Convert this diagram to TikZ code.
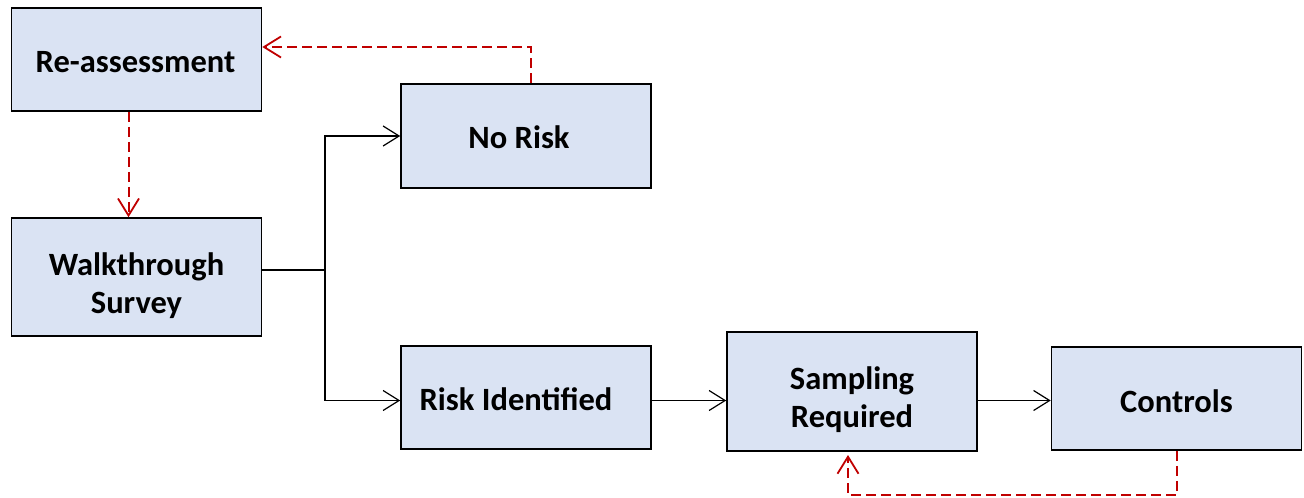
\documentclass[tikz,border=0pt]{standalone}
\usepackage{fontspec}
\setmainfont{Carlito}
\usetikzlibrary{arrows.meta,calc}
\definecolor{boxfill}{HTML}{DAE3F3}
\definecolor{dashred}{HTML}{C00000}
\begin{document}
\begin{tikzpicture}[x=1pt,y=-1pt,
  box/.style={draw=black, line width=1.6pt, fill=boxfill, inner sep=0pt,
    minimum width=250pt},
  txt/.style={inner sep=0pt, align=center,
    font=\fontsize{32.5}{38}\selectfont\bfseries},
  flow/.style={draw=black, line width=1.2pt, -{Straight Barb[length=16pt,width=20pt,line width=1.2pt]}},
  redflow/.style={draw=dashred, line width=2pt, dash pattern=on 10pt off 5pt,
    -{Straight Barb[length=17pt,width=21pt,line width=1.8pt]}}
]
\useasboundingbox (0,0) rectangle (1304,498);
\node[box, minimum height=103pt] (reass) at (136.5,59.5) {};
\node[box, minimum height=104pt] (norisk) at (526,136) {};
\node[box, minimum height=118pt] (walk) at (136.5,277) {};
\node[box, minimum height=103pt] (riskid) at (526,397.5) {};
\node[box, minimum height=119pt] (samp) at (852,391.5) {};
\node[box, minimum height=103pt] (ctrl) at (1176.5,398.5) {};
\node[txt] (reasstxt) at ([xshift=-1pt,yshift=-3pt]reass.center) {Re-assessment};
\node[txt] (norisktxt) at ([xshift=-7pt,yshift=-1pt]norisk.center) {No Risk};
\node[txt] (walktxt) at ([yshift=-9pt]walk.center) {Walkthrough\\Survey};
\node[txt] (riskidtxt) at ([xshift=-10pt,yshift=-2pt]riskid.center) {Risk Identified};
\node[txt] (samptxt) at ([yshift=-8pt]samp.center) {Sampling\\Required};
\node[txt] (ctrltxt) at ([yshift=-3pt]ctrl.center) {Controls};
\coordinate (split) at (325,270);
\draw[line width=1.2pt] ([yshift=7pt]walk.east) -- (split);
\draw[flow] (split) |- (norisk.west);
\draw[flow] (split) |- ([yshift=-3pt]riskid.west);
\draw[flow] ([yshift=-3pt]riskid.east) -- ([yshift=-3pt]riskid.east -| samp.west);
\draw[flow] ([yshift=-3pt]riskid.east -| samp.east) -- ([yshift=-3pt]riskid.east -| ctrl.west);
\coordinate (rtop) at (531,47);
\draw[redflow] ([xshift=5pt]norisk.north) -- (rtop) -- (rtop -| reass.east);
\draw[redflow] ([xshift=-8pt]reass.south) -- ([xshift=-8pt]walk.north);
\coordinate (cbot) at (1176.5,495);
\draw[redflow, shorten >=4pt] (ctrl.south) -- (cbot) -- (cbot -| 848,0) -- (848,451);
\end{tikzpicture}
\end{document}
